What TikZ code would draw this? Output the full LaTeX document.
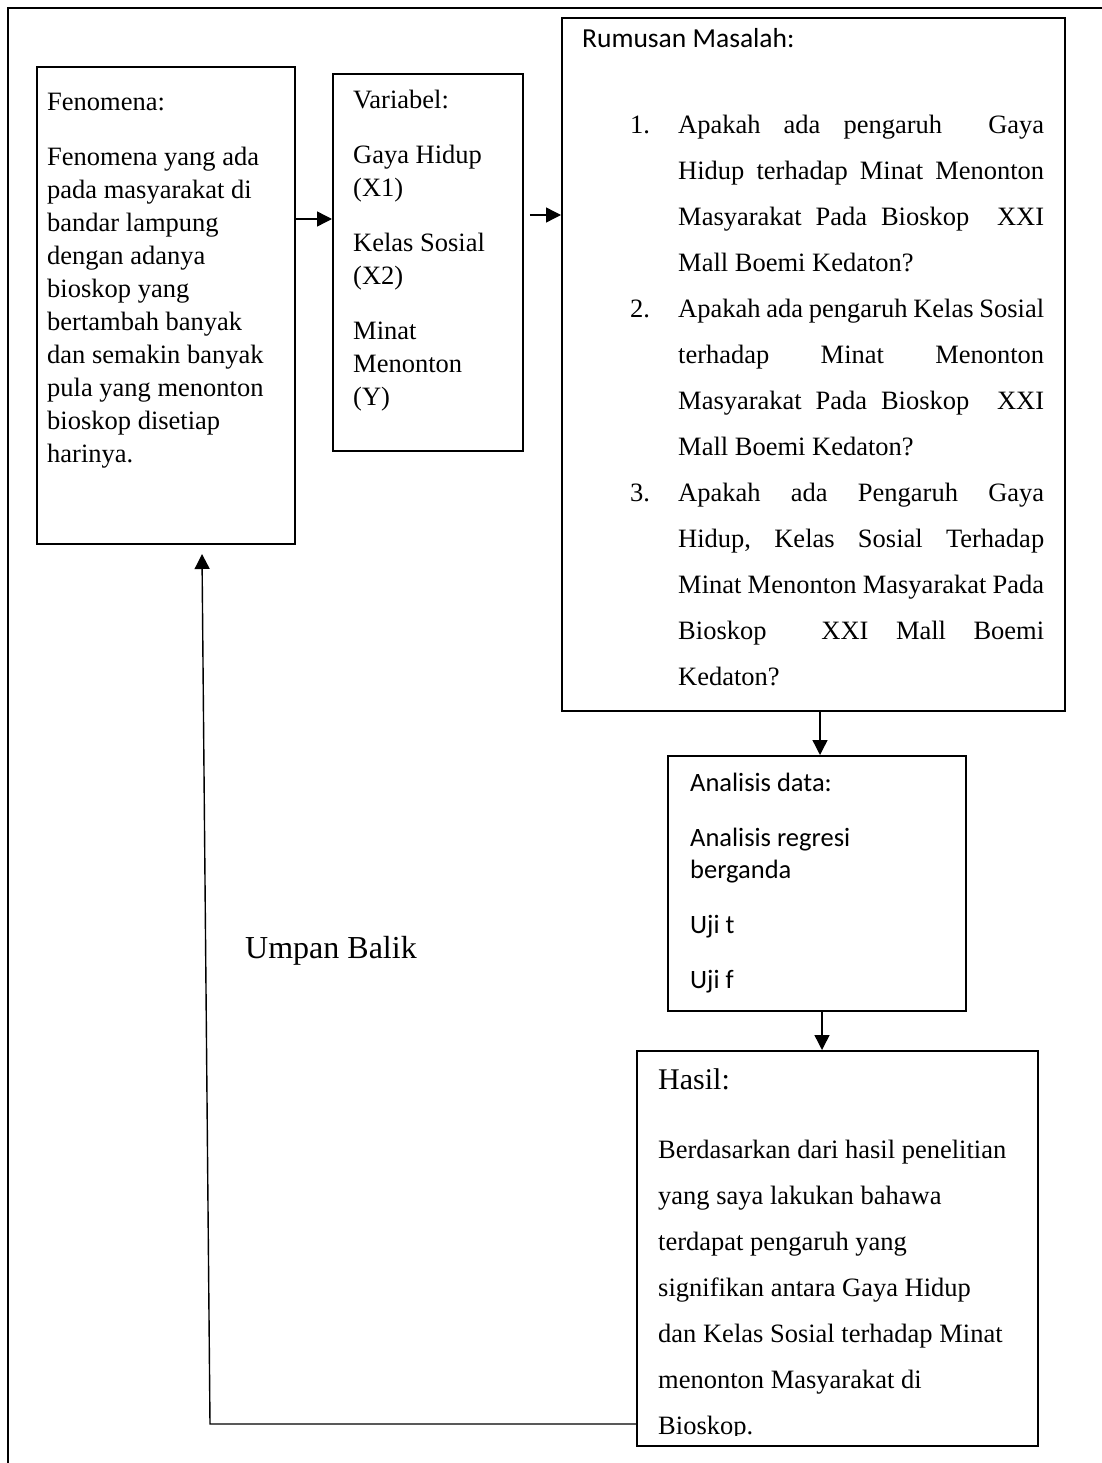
\documentclass[tikz,border=0pt]{standalone}
\usepackage{fontspec}
\setmainfont{Liberation Serif}
\newfontfamily\calibrifont{Carlito}
\usetikzlibrary{arrows.meta}
\newcommand{\jl}[1]{\hbox to 366pt{#1}}
\newcommand{\il}[1]{\hbox{\hskip48pt #1}}
\tikzset{
  boxnode/.style={draw, line width=1.8pt, anchor=north west, inner sep=0pt},
  txt/.style={anchor=base west, inner sep=0pt, font=\fontsize{26.5}{33}\selectfont},
  sanstxt/.style={anchor=base west, inner sep=0pt, font=\calibrifont\fontsize{26.5}{32}\selectfont},
  conn/.style={line width=1.4pt, -{Triangle[length=15pt,width=15pt]}},
}
\begin{document}
\begin{tikzpicture}[x=1pt,y=-1pt]
\useasboundingbox (0,0) rectangle (1101,1463);
% outer frame
\draw[line width=2.5pt] (8,1470) -- (8,8) -- (1110,8);

% boxes
\node[boxnode, minimum width=258pt, minimum height=477pt] (fen) at (36,66) {};
\node[boxnode, minimum width=190pt, minimum height=377pt] (var) at (332,73) {};
\node[boxnode, minimum width=503pt, minimum height=693pt] (rum) at (561,17) {};
\node[boxnode, minimum width=298pt, minimum height=255pt] (ana) at (667,755) {};
\node[boxnode, minimum width=401pt, minimum height=395pt] (has) at (636,1050) {};

% Fenomena text
\node[txt] (fentxt) at (47,111) {\vtop{\baselineskip=33pt
  \hbox{Fenomena:}\vskip22pt
  \hbox{Fenomena yang ada}
  \hbox{pada masyarakat di}
  \hbox{bandar lampung}
  \hbox{dengan adanya}
  \hbox{bioskop yang}
  \hbox{bertambah banyak}
  \hbox{dan semakin banyak}
  \hbox{pula yang menonton}
  \hbox{bioskop disetiap}
  \hbox{harinya.}}};

% Variabel text
\node[txt] (vartxt) at (353,109) {\vtop{\baselineskip=33pt
  \hbox{Variabel:}\vskip22pt
  \hbox{Gaya Hidup}
  \hbox{(X1)}\vskip22pt
  \hbox{Kelas Sosial}
  \hbox{(X2)}\vskip22pt
  \hbox{Minat}
  \hbox{Menonton}
  \hbox{(Y)}}};

% Rumusan text
\node[anchor=base west, inner sep=0pt, font=\calibrifont\fontsize{27.5}{33}\selectfont] (rumhead) at (582,48) {Rumusan Masalah:};
\node[txt] (rumtxt) at (630,134) {\vtop{\baselineskip=46pt
  \hbox{\hbox to 48pt{1.\hfill}\jl{Apakah\hfill ada\hfill pengaruh\hfill\hfill Gaya}}
  \il{\jl{Hidup\hfill terhadap\hfill Minat\hfill Menonton}}
  \il{\jl{Masyarakat\hfill Pada\hfill Bioskop\hfill\hfill XXI}}
  \il{Mall Boemi Kedaton?}
  \hbox{\hbox to 48pt{2.\hfill}\jl{Apakah\hfill ada\hfill pengaruh\hfill Kelas\hfill Sosial}}
  \il{\jl{terhadap\hfill Minat\hfill Menonton}}
  \il{\jl{Masyarakat\hfill Pada\hfill Bioskop\hfill\hfill XXI}}
  \il{Mall Boemi Kedaton?}
  \hbox{\hbox to 48pt{3.\hfill}\jl{Apakah\hfill ada\hfill Pengaruh\hfill Gaya}}
  \il{\jl{Hidup,\hfill Kelas\hfill Sosial\hfill Terhadap}}
  \il{\jl{Minat\hfill Menonton\hfill Masyarakat\hfill Pada}}
  \il{\jl{Bioskop\hfill\hfill XXI\hfill Mall\hfill Boemi}}
  \il{Kedaton?}}};

% Analisis text
\node[sanstxt] (anatxt) at (690,791) {\vtop{\baselineskip=32pt
  \hbox{Analisis data:}\vskip23pt
  \hbox{Analisis regresi}
  \hbox{berganda}\vskip23pt
  \hbox{Uji t}\vskip23pt
  \hbox{Uji f}}};

% Hasil text
\node[anchor=base west, inner sep=0pt, font=\fontsize{30}{36}\selectfont] (hashead) at (658,1089) {Hasil:};
\begin{scope}
\clip (636,1050) rectangle (1037,1435);
\node[txt] (hastxt) at (658,1158) {\vtop{\baselineskip=46pt
  \hbox{Berdasarkan dari hasil penelitian}
  \hbox{yang saya lakukan bahawa}
  \hbox{terdapat pengaruh yang}
  \hbox{signifikan antara Gaya Hidup}
  \hbox{dan Kelas Sosial terhadap Minat}
  \hbox{menonton Masyarakat di}
  \hbox{Bioskop.}}};
\end{scope}

% feedback label
\node[anchor=base west, inner sep=0pt, font=\fontsize{32}{38}\selectfont] (umpan) at (245,958) {Umpan Balik};

% connectors
\draw[conn] (fen.east |- 0,219) -- (var.west |- 0,219);
\draw[conn] ([xshift=6pt]var.east |- 0,215) -- (rum.west |- 0,215);
\draw[conn] (rum.south -| 820,0) -- (ana.north -| 820,0);
\draw[conn] (ana.south -| 822,0) -- (has.north -| 822,0);
\coordinate (fbcorner) at (210,1424);
\coordinate (fbtip) at (202,554);
\draw[conn] (has.west |- fbcorner) -- (fbcorner) -- (fbtip);
\end{tikzpicture}
\end{document}
